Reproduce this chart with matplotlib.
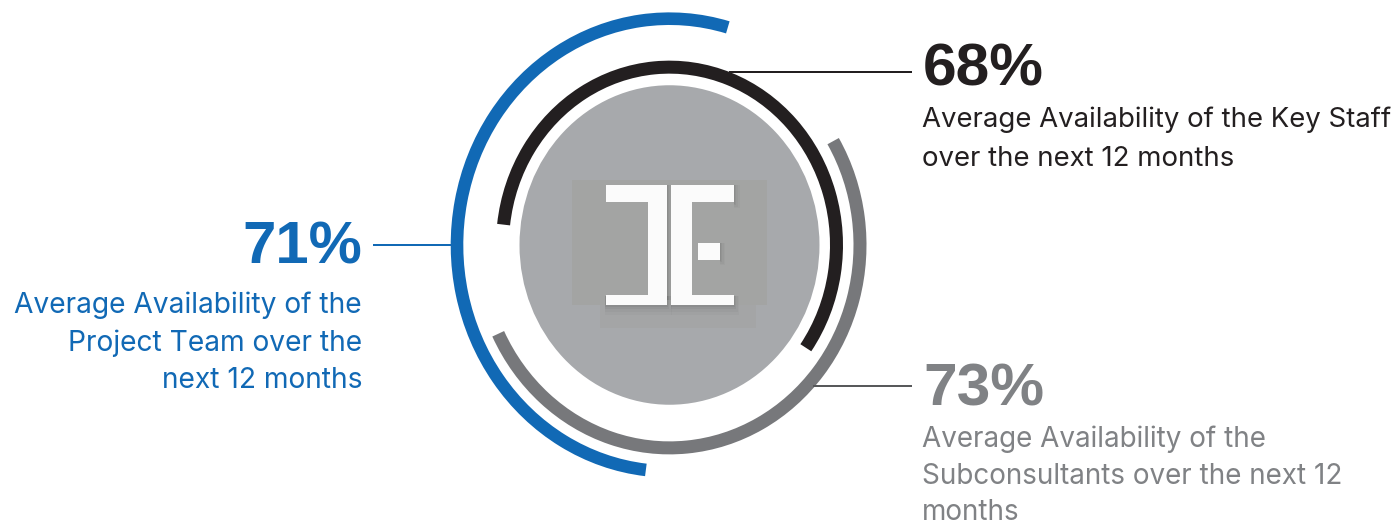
import numpy as np
import matplotlib
matplotlib.use("Agg")
import matplotlib.pyplot as plt
from matplotlib.patches import Arc, Ellipse, Rectangle

# ---- data ----
groups = ["Project Team", "Key Staff", "Subconsultants"]
values = [71, 68, 73]
descriptions = [
    ["Average Availability of the", "Project Team over the", "next 12 months"],
    ["Average Availability of the Key Staff", "over the next 12 months"],
    ["Average Availability of the", "Subconsultants over the next 12", "months"],
]
colors = ["#1169B5", "#231F20", "#77787B"]
text_colors = ["#1169B5", "#231F20", "#808285"]
# decorative arc extents (degrees, ccw, screen coords) and radii (px)
arc_theta = [(75, 264), (-37, 173), (207.4, 392.4)]
arc_radius = [212.5, 167.0, 190.5]
arc_lw_px = [12.6, 13.0, 13.0]

W, H = 1398, 527
DPI = 100
fig = plt.figure(figsize=(W / DPI, H / DPI), dpi=DPI)
ax = fig.add_axes([0, 0, 1, 1])
ax.set_xlim(0, W)
ax.set_ylim(0, H)
ax.axis("off")

PX2PT = 72 / DPI
cx, cy_img = 669.5, 245.0
cy = H - cy_img
stretch = 1.065
BODY_FONT = ["Inter", "DejaVu Sans"]
NUM_FONT = ["Liberation Sans", "DejaVu Sans"]

# central disk
ax.add_patch(Ellipse((cx, cy), 300, 300 * stretch, facecolor="#A7A9AC", edgecolor="none", zorder=1))

def R(x0, y0, x1, y1, **kw):
    ax.add_patch(Rectangle((x0, H - y1), x1 - x0, y1 - y0, **kw))

# logo background
R(572, 180, 767, 305, facecolor="#A3A4A3", edgecolor="none", zorder=2)
R(600, 305, 756, 328, facecolor="#A4A5A6", edgecolor="none", zorder=2)
# soft shadow
for k, a in zip([10, 7, 4, 2], [0.04, 0.05, 0.07, 0.09]):
    R(605, 296, 667 + k * 0.5, 305 + k, facecolor="#404040", alpha=a, edgecolor="none", zorder=3)
    R(671, 296, 734 + k * 0.5, 305 + k, facecolor="#404040", alpha=a, edgecolor="none", zorder=3)
    R(667, 185, 667 + k * 0.6, 300, facecolor="#404040", alpha=a, edgecolor="none", zorder=3)
    R(734, 185, 734 + k * 0.6, 203 + k * 0.5, facecolor="#404040", alpha=a, edgecolor="none", zorder=3)
    R(720, 243, 720 + k * 0.5, 260 + k * 0.5, facecolor="#404040", alpha=a, edgecolor="none", zorder=3)
white = dict(facecolor="#FBFBFB", edgecolor="none", zorder=4)
R(605.5, 185, 667, 202, **white)
R(648, 185, 667, 305, **white)
R(605.5, 295, 667, 305, **white)
R(671, 185, 734, 202, **white)
R(671, 185, 691.5, 305, **white)
R(671, 295, 734, 305, **white)
R(698, 243, 720, 260, **white)

# arcs
for (t1, t2), r, lw, c in zip(arc_theta, arc_radius, arc_lw_px, colors):
    ax.add_patch(Arc((cx, cy), 2 * r, 2 * r * stretch, theta1=t1, theta2=t2,
                     color=c, lw=lw * PX2PT, zorder=5))

# connectors
def arc_x_at(y_img, r_outer, side):
    dy = (cy_img - y_img) / stretch
    return cx + side * np.sqrt(max(r_outer ** 2 - dy ** 2, 0))

conn = [
    (245.0, 373.0, arc_x_at(245.0, arc_radius[0] + 6.3, -1) + 1, "#1169B5"),
    (71.7, arc_x_at(71.7, arc_radius[1] + 6.5, 1) - 1, 911.7, "#231F20"),
    (386.0, arc_x_at(386.0, arc_radius[2] + 6.5, 1) - 2, 911.7, "#58595B"),
]
for y, x0, x1, c in conn:
    ax.plot([x0, x1], [H - y, H - y], color=c, lw=2.0 * PX2PT, solid_capstyle="butt", zorder=5)

renderer = fig.canvas.get_renderer()

def fit_text(x, y_img, s, target_w, base_px, **kw):
    t = ax.text(x, H - y_img, s, fontsize=base_px * PX2PT, va="baseline", **kw)
    w = t.get_window_extent(renderer).width
    t.set_fontsize(base_px * PX2PT * target_w / w)
    return t

# big numbers
num_kw = dict(fontweight="bold", family=NUM_FONT)
fit_text(362, 263, f"{values[0]}%", 120, 59, ha="right", color=text_colors[0], **num_kw)
fit_text(923, 85, f"{values[1]}%", 121, 59, ha="left", color=text_colors[1], **num_kw)
fit_text(923, 405, f"{values[2]}%", 121, 59, ha="left", color=text_colors[2], **num_kw)

# body text: fit first line width, reuse size for the rest
def body(x, ys, lines, target_w, ha, color):
    t0 = fit_text(x, ys[0], lines[0], target_w, 24.5, ha=ha, color=color, family=BODY_FONT)
    fs = t0.get_fontsize()
    for y, line in zip(ys[1:], lines[1:]):
        ax.text(x, H - y, line, ha=ha, va="baseline", fontsize=fs, color=color, family=BODY_FONT)

body(362, [313, 351, 388], descriptions[0], 349, "right", text_colors[0])
body(922, [126.7, 166.2], descriptions[1], 470, "left", text_colors[1])
body(922, [446.7, 483.5, 520], descriptions[2], 345, "left", text_colors[2])

fig.savefig("out.png", dpi=DPI, facecolor="white")
